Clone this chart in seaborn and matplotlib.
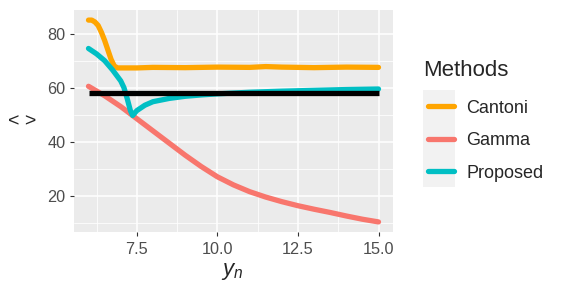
import numpy as np
import pandas as pd
import matplotlib
matplotlib.use("Agg")
import matplotlib.pyplot as plt
from matplotlib.patches import Rectangle
from matplotlib.ticker import MultipleLocator
import seaborn as sns

# values
cantoni_x = [6.0, 6.1, 6.2, 6.3, 6.4, 6.5, 6.6, 6.7, 6.8, 6.9, 7.5, 8.0, 9.0, 10.0, 11.0, 11.5, 12.0, 13.0, 14.0, 15.0]
cantoni_y = [85.0, 85.0, 84.3, 83.0, 80.5, 77.5, 74.0, 70.5, 68.0, 67.3, 67.3, 67.5, 67.4, 67.6, 67.5, 67.8, 67.6, 67.4, 67.6, 67.5]

gamma_x = [6.0, 6.5, 7.0, 7.5, 8.0, 8.5, 9.0, 9.5, 10.0, 10.5, 11.0, 11.5, 12.0, 12.5, 13.0, 13.5, 14.0, 14.5, 15.0]
gamma_y = [60.5, 57.0, 53.0, 48.5, 44.0, 39.5, 35.0, 30.8, 27.0, 24.0, 21.5, 19.5, 17.8, 16.3, 15.0, 13.8, 12.5, 11.3, 10.3]

proposed_x = [6.0, 6.25, 6.5, 6.75, 7.0, 7.1, 7.2, 7.3, 7.37, 7.5, 7.75, 8.0, 8.5, 9.0, 9.5, 10.0, 11.0, 12.0, 13.0, 14.0, 15.0]
proposed_y = [74.5, 72.5, 70.0, 66.5, 62.5, 60.0, 56.0, 51.5, 49.7, 51.5, 53.5, 54.8, 56.0, 56.8, 57.3, 57.7, 58.3, 58.7, 59.0, 59.3, 59.5]

ref_x = [6.0, 15.0]
ref_y = [58.0, 58.0]

methods = ["Cantoni", "Gamma", "Proposed"]
colors = ["#FFA500", "#F8766D", "#00BFC4"]

df = pd.concat([
    pd.DataFrame({"yn": cantoni_x, "v": cantoni_y, "Methods": "Cantoni"}),
    pd.DataFrame({"yn": gamma_x, "v": gamma_y, "Methods": "Gamma"}),
    pd.DataFrame({"yn": proposed_x, "v": proposed_y, "Methods": "Proposed"}),
])

sns.set_theme(style="darkgrid", rc={
    "axes.facecolor": "#EBEBEB",
    "grid.color": "white",
})
plt.rcParams["font.family"] = ["Liberation Sans", "DejaVu Sans"]
plt.rcParams["mathtext.fontset"] = "custom"
plt.rcParams["mathtext.it"] = "Liberation Sans:italic"
plt.rcParams["mathtext.rm"] = "Liberation Sans"

fig = plt.figure(figsize=(5.65, 2.96), dpi=100)
ax = fig.add_axes([74 / 565, 1 - 232 / 296, 319 / 565, 222 / 296])

lw = 3.8
sns.lineplot(data=df, x="yn", y="v", hue="Methods", hue_order=methods,
             palette=dict(zip(methods, colors)), linewidth=lw, ax=ax,
             estimator=None, sort=False)
ax.plot(ref_x, ref_y, color="black", linewidth=lw, solid_capstyle="butt", zorder=5)

ax.set_xlim(5.55, 15.45)
ax.set_ylim(6.57, 88.74)
ax.xaxis.set_minor_locator(MultipleLocator(1.25))
ax.yaxis.set_minor_locator(MultipleLocator(10))
ax.set_xticks([7.5, 10, 12.5, 15])
ax.set_xticklabels(["7.5", "10.0", "12.5", "15.0"])
ax.set_yticks([20, 40, 60, 80])
ax.grid(which="major", color="white", linewidth=1.1)
ax.grid(which="minor", color="white", linewidth=0.55)
ax.tick_params(which="major", length=3, width=0.8, color="#333333",
               labelsize=11.7, labelcolor="#4D4D4D")
ax.tick_params(axis="x", pad=4.5)
ax.tick_params(axis="y", pad=3)
ax.tick_params(which="minor", length=0)
ax.tick_params(axis="both", which="major", bottom=True, left=True)
for s in ax.spines.values():
    s.set_visible(False)

ax.set_xlabel("$y_n$", fontsize=16, va="center")
ax.xaxis.set_label_coords((232 - 74) / 319, (232 - 271) / 222)
ax.set_ylabel("< >", rotation=0, fontsize=14, va="center", ha="center")
ax.yaxis.set_label_coords((22 - 74) / 319, (232 - 122) / 222)

leg = ax.legend(title="Methods", loc="upper left",
                bbox_to_anchor=(421 / 565, 1 - 53 / 296),
                bbox_transform=fig.transFigure, frameon=False,
                fontsize=13, title_fontsize=16, handlelength=1.45,
                handletextpad=0.65, labelspacing=0.86, alignment="left",
                borderaxespad=0)
leg._legend_box.sep = 13.3
leg.get_title().set_x(-5)
for h in leg.get_lines():
    h.set_linewidth(lw)

fig.patches.append(Rectangle((423 / 565, 1 - 187 / 296), 32 / 565, 97 / 296,
                             transform=fig.transFigure, facecolor="#F2F2F2",
                             edgecolor="none", zorder=-1))

fig.savefig("out.png", dpi=100)
